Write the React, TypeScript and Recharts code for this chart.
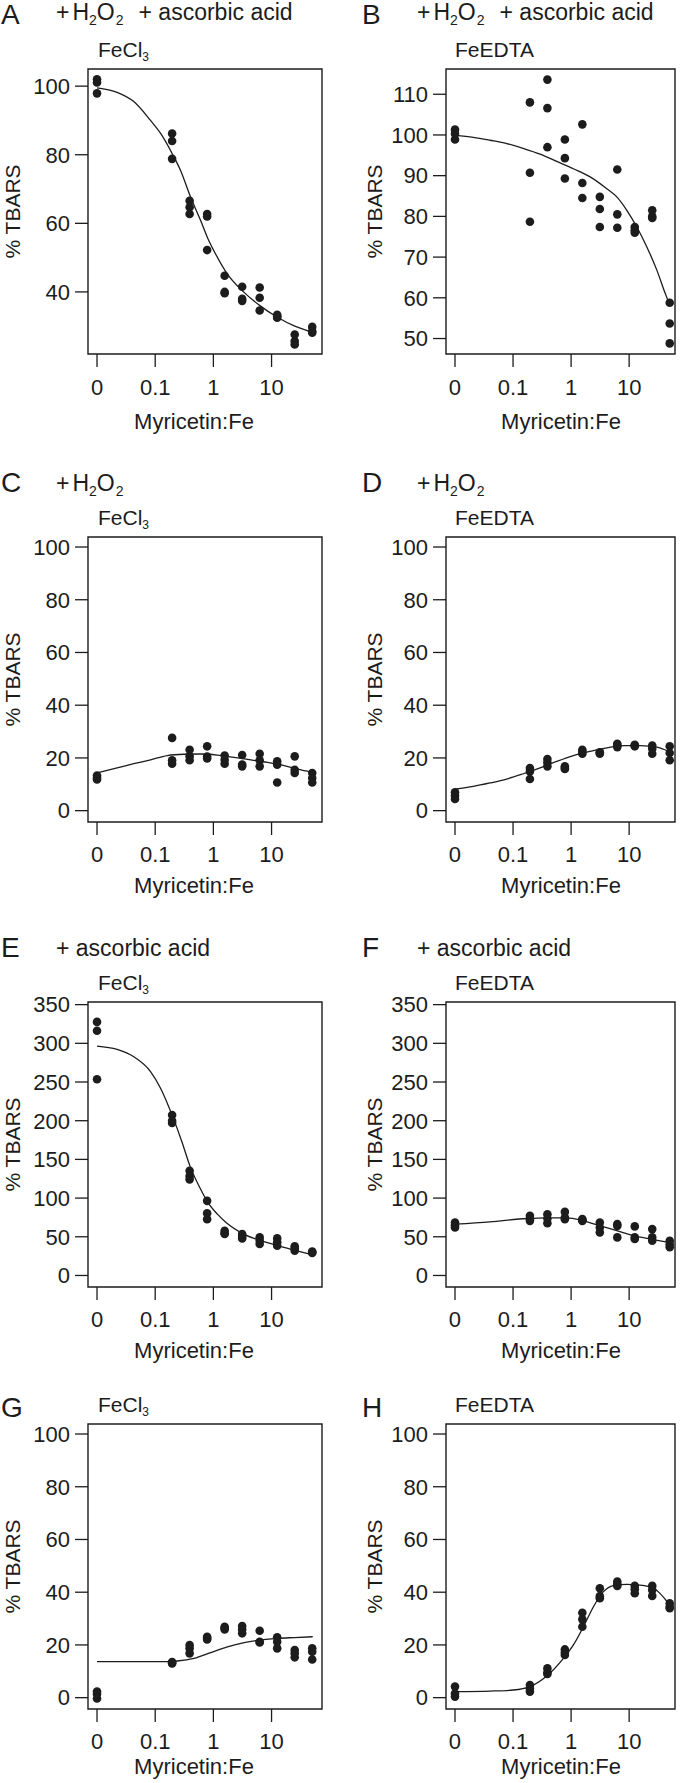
import React from 'react';
import { ComposedChart, Scatter, Line, XAxis, YAxis, ReferenceArea } from 'recharts';

// ---------- data ----------
// Myricetin:Fe ratios (0 is drawn one decade left of 0.1)
const ratios = [0, 0.1953125, 0.390625, 0.78125, 1.5625, 3.125, 6.25, 12.5, 25, 50];
const xTickPos = [-2, -1, 0, 1];
const xTickLabels = ['0', '0.1', '1', '10'];

// replicate % TBARS values, one list per ratio
const aValues = [[102.0, 101.1, 97.9], [86.2, 84.0, 78.8], [66.6, 64.7, 62.7], [62.7, 62.0, 52.2], [44.7, 40.0, 39.6], [41.5, 38.0, 37.4], [41.3, 38.3, 34.6], [33.3, 32.5, 32.8], [27.6, 25.7, 24.7], [29.8, 28.1, 28.5]];
const bValues = [[101.3, 100.3, 98.9], [108.0, 90.7, 78.7], [113.6, 106.6, 97.0], [98.9, 94.3, 89.3], [102.6, 88.2, 84.5], [84.8, 81.8, 77.4], [91.5, 80.5, 77.2], [77.4, 76.6, 76.0], [81.5, 79.6, 80.0], [58.8, 53.7, 48.8]];
const cValues = [[13.3, 12.5, 11.8], [27.6, 19.1, 17.8], [23.1, 20.6, 19.1], [24.4, 20.5, 19.8], [20.9, 19.3, 17.8], [21.1, 17.5, 16.8], [21.6, 19.1, 16.8], [18.7, 17.4, 10.7], [20.6, 15.5, 14.3], [14.3, 12.4, 10.7]];
const dValues = [[7.0, 5.7, 4.4], [16.2, 14.9, 12.0], [19.6, 18.3, 16.8], [16.8, 15.8, 16.2], [23.1, 21.6, 22.3], [22.1, 21.6, 22.0], [25.4, 24.1, 24.8], [25.0, 24.4, 24.7], [24.7, 21.6, 23.5], [24.4, 21.9, 19.1]];
const eValues = [[327.7, 316.2, 253.6], [207.3, 200.0, 197.0], [135.3, 128.5, 124.2], [96.4, 80.5, 72.8], [57.8, 55.0, 53.5], [53.5, 50.0, 47.9], [49.2, 44.9, 40.7], [47.9, 42.8, 38.5], [37.7, 35.0, 32.1], [31.0, 30.0, 29.0]];
const fValues = [[68.5, 65.0, 62.1], [77.1, 73.0, 70.6], [79.2, 73.6, 67.6], [82.2, 74.9, 72.8], [72.8, 71.5, 70.6], [68.5, 62.0, 55.7], [66.3, 64.0, 49.2], [63.4, 49.2, 47.1], [59.9, 49.2, 44.9], [44.9, 40.0, 36.4]];
const gValues = [[2.3, 1.4, -0.3], [13.5, 13.0, 13.2], [20.0, 18.7, 16.8], [23.1, 22.1, 22.6], [26.9, 25.9, 26.4], [27.2, 25.9, 24.4], [25.4, 20.9, 21.2], [22.9, 21.2, 18.7], [18.1, 16.8, 15.3], [18.7, 17.4, 14.5]];
const hValues = [[4.2, 1.6, 0.4], [4.8, 3.5, 2.3], [11.1, 9.5, 9.0], [18.3, 17.1, 16.2], [32.2, 29.7, 26.9], [41.5, 37.7, 38.5], [44.0, 42.4, 43.0], [42.4, 41.1, 39.6], [42.4, 40.8, 38.6], [35.8, 34.5, 33.9]];

// fitted curves: [axis position (log10 ratio), % TBARS]
const aCurve = [[-2, 99.5], [-1.655, 98.2], [-1.368, 95.5], [-1.081, 90.0], [-0.907, 86.2], [-0.707, 80.3], [-0.564, 75.4], [-0.391, 67.6], [-0.219, 60.8], [-0.103, 55.9], [0.04, 51.0], [0.241, 45.2], [0.5, 40.3], [0.8, 36.0], [1.1, 32.6], [1.4, 30.0], [1.764, 27.9]];
const bCurve = [[-2, 99.9], [-1.684, 99.4], [-1.397, 98.7], [-1.109, 97.9], [-0.822, 96.7], [-0.534, 95.3], [-0.247, 93.5], [0.04, 91.7], [0.328, 89.7], [0.615, 86.8], [0.787, 84.8], [0.96, 81.5], [1.132, 77.4], [1.305, 72.5], [1.477, 66.8], [1.621, 61.1], [1.678, 59.0]];
const cCurve = [[-2, 14.3], [-1.655, 16.2], [-1.368, 17.8], [-1.08, 19.3], [-0.793, 20.9], [-0.506, 21.4], [-0.218, 21.5], [0.069, 21.1], [0.356, 20.2], [0.644, 19.3], [0.931, 18.3], [1.218, 17.1], [1.506, 15.5], [1.764, 14.3]];
const dCurve = [[-2, 8.2], [-1.684, 9.2], [-1.397, 10.5], [-1.109, 12.0], [-0.822, 14.0], [-0.534, 16.2], [-0.247, 18.7], [0.04, 20.9], [0.328, 22.5], [0.615, 23.8], [0.902, 24.7], [1.19, 24.7], [1.477, 24.1], [1.678, 22.5]];
const eCurve = [[-2, 296.4], [-1.655, 292.2], [-1.368, 282.7], [-1.08, 263.5], [-0.908, 242.0], [-0.701, 205.6], [-0.534, 171.3], [-0.402, 141.3], [-0.247, 115.6], [-0.092, 94.2], [0.069, 79.2], [0.218, 68.5], [0.523, 53.5], [0.816, 44.9], [1.103, 38.5], [1.42, 32.1], [1.707, 26.5]];
const fCurve = [[-2, 66.3], [-1.397, 69.3], [-0.764, 73.6], [-0.42, 74.5], [-0.075, 74.5], [0.213, 70.6], [0.5, 64.2], [0.787, 57.8], [1.075, 51.4], [1.362, 47.1], [1.678, 42.8]];
const gCurve = [[-2, 13.7], [-1.368, 13.7], [-0.793, 13.7], [-0.621, 13.9], [-0.333, 14.9], [-0.046, 17.1], [0.241, 19.3], [0.529, 20.9], [0.816, 21.9], [1.103, 22.5], [1.391, 22.8], [1.707, 23.1]];
const hCurve = [[-2, 2.3], [-1.397, 2.5], [-0.994, 2.9], [-0.707, 4.2], [-0.42, 8.2], [-0.132, 14.9], [0.04, 20.0], [0.213, 26.9], [0.385, 34.5], [0.557, 40.2], [0.73, 42.5], [0.96, 43.0], [1.19, 42.7], [1.42, 41.5], [1.678, 35.8]];

// y ticks
const ticksA = [40, 60, 80, 100];
const ticksB = [50, 60, 70, 80, 90, 100, 110];
const ticks100 = [0, 20, 40, 60, 80, 100];
const ticks350 = [0, 50, 100, 150, 200, 250, 300, 350];

// ---------- layout ----------
const FONT = '"Liberation Sans", Arial, Helvetica, sans-serif';
const INK = '#1c1c1c';
const ROW_TOPS = [69, 537, 1002, 1424];
const BOX_H = 285;
const COL_LEFT = [0, 340];
const BOX_LEFT = [88, 446];
const BOX_RIGHT = [322, 675];
const X_DOMAIN = [[-2.155, 1.867], [-2.155, 1.79]];
const PAD = 10;
const XAXIS_H = 60;
const XLAB_OFFSET = [75, 71, 71, 65];

type PanelDef = {
  letter: string; row: number; col: number; header: string | null; iron: 'FeCl3' | 'FeEDTA';
  values: number[][]; curve: number[][]; yDomain: number[]; yTicks: number[];
};

const panels: PanelDef[] = [
  { letter: 'A', row: 0, col: 0, header: 'both', iron: 'FeCl3', values: aValues, curve: aCurve, yDomain: [21.9, 105], yTicks: ticksA },
  { letter: 'B', row: 0, col: 1, header: 'both', iron: 'FeEDTA', values: bValues, curve: bCurve, yDomain: [46.2, 116.2], yTicks: ticksB },
  { letter: 'C', row: 1, col: 0, header: 'h2o2', iron: 'FeCl3', values: cValues, curve: cCurve, yDomain: [-4.3, 103.8], yTicks: ticks100 },
  { letter: 'D', row: 1, col: 1, header: 'h2o2', iron: 'FeEDTA', values: dValues, curve: dCurve, yDomain: [-4.3, 103.8], yTicks: ticks100 },
  { letter: 'E', row: 2, col: 0, header: 'asc', iron: 'FeCl3', values: eValues, curve: eCurve, yDomain: [-14.9, 353.4], yTicks: ticks350 },
  { letter: 'F', row: 2, col: 1, header: 'asc', iron: 'FeEDTA', values: fValues, curve: fCurve, yDomain: [-14.9, 353.4], yTicks: ticks350 },
  { letter: 'G', row: 3, col: 0, header: null, iron: 'FeCl3', values: gValues, curve: gCurve, yDomain: [-4.3, 103.8], yTicks: ticks100 },
  { letter: 'H', row: 3, col: 1, header: null, iron: 'FeEDTA', values: hValues, curve: hCurve, yDomain: [-4.3, 103.8], yTicks: ticks100 },
];

const toPos = (r: number) => (r === 0 ? -2 : Math.log10(r));

const Dot = (props: any) => <circle cx={props.cx} cy={props.cy} r={4.3} fill={INK} />;

function Panel({ p }: { p: PanelDef }) {
  const colLeft = COL_LEFT[p.col];
  const boxLeft = BOX_LEFT[p.col];
  const boxRight = BOX_RIGHT[p.col];
  const xDomain = X_DOMAIN[p.col];
  const top = ROW_TOPS[p.row];
  const width = 340;
  const height = PAD + BOX_H + XAXIS_H;
  const points: { x: number; y: number }[] = [];
  ratios.forEach((r, i) => p.values[i].forEach((v) => points.push({ x: toPos(r), y: v })));
  const curve = p.curve.map(([x, y]) => ({ x, y }));
  return (
    <div style={{ position: 'absolute', left: colLeft, top: top - PAD }}>
      <ComposedChart
        width={width}
        height={height}
        margin={{ top: PAD, right: colLeft + width - boxRight, bottom: 0, left: 0 }}
      >
        <XAxis
          type="number"
          dataKey="x"
          domain={xDomain}
          allowDataOverflow
          ticks={xTickPos}
          interval={0}
          tickFormatter={(v: number) => xTickLabels[xTickPos.indexOf(v)]}
          height={XAXIS_H}
          tickSize={13}
          tickMargin={p.row === 0 ? 12 : 11}
          axisLine={false}
          tickLine={{ stroke: INK, strokeWidth: 1.3 }}
          tick={{ fontSize: 22, fill: INK, fontFamily: FONT }}
        />
        <YAxis
          type="number"
          dataKey="y"
          domain={p.yDomain}
          allowDataOverflow
          ticks={p.yTicks}
          interval={0}
          width={boxLeft - colLeft}
          tickSize={13}
          tickMargin={5}
          axisLine={false}
          tickLine={{ stroke: INK, strokeWidth: 1.3 }}
          tick={{ fontSize: 22, fill: INK, fontFamily: FONT }}
        />
        <ReferenceArea
          x1={xDomain[0]}
          x2={xDomain[1]}
          y1={p.yDomain[0]}
          y2={p.yDomain[1]}
          fill="none"
          fillOpacity={0}
          stroke={INK}
          strokeWidth={1.4}
          strokeOpacity={1}
        />
        <Line
          data={curve}
          dataKey="y"
          type="monotone"
          dot={false}
          activeDot={false}
          stroke={INK}
          strokeWidth={1.3}
          isAnimationActive={false}
        />
        <Scatter data={points} shape={Dot} isAnimationActive={false} />
      </ComposedChart>
    </div>
  );
}

function Header({ kind, x, y }: { kind: string; x: number; y: number }) {
  if (kind === 'asc') {
    return (
      <text x={x} y={y} fontSize={23}>+ ascorbic acid</text>
    );
  }
  return (
    <text x={x} y={y} fontSize={23}>
      <tspan>+</tspan>
      <tspan dx={3}>H</tspan>
      <tspan fontSize={14} dy={5}>2</tspan>
      <tspan dy={-5}>O</tspan>
      <tspan fontSize={14} dy={5} dx={1}>2</tspan>
      {kind === 'both' ? <tspan dy={-5} dx={15}>+ ascorbic acid</tspan> : null}
    </text>
  );
}

function Labels() {
  return (
    <svg
      width={680}
      height={1783}
      style={{ position: 'absolute', left: 0, top: 0, pointerEvents: 'none' }}
      fontFamily={FONT}
      fill={INK}
    >
      {panels.map((p) => {
        const top = ROW_TOPS[p.row];
        const colShift = p.col === 0 ? 0 : 360;
        const letterX = p.col === 0 ? 1 : 362;
        const letterY = p.row === 0 ? 24 : p.header ? top - 45 : top - 7;
        const headerY = p.row === 0 ? 20 : top - 46;
        const ironX = p.col === 0 ? 98 : 455;
        const ironY = top - 12;
        const ylabX = p.col === 0 ? 19.5 : 382;
        const xlabX = p.col === 0 ? 194 : 561;
        const xlabY = top + BOX_H + XLAB_OFFSET[p.row];
        return (
          <g key={p.letter}>
            <text x={letterX} y={letterY} fontSize={28}>{p.letter}</text>
            {p.header ? <Header kind={p.header} x={56 + colShift + (p.col === 1 ? 1 : 0)} y={headerY} /> : null}
            {p.iron === 'FeCl3' ? (
              <text x={ironX} y={ironY} fontSize={21}>
                FeCl<tspan fontSize={12} dy={4}>3</tspan>
              </text>
            ) : (
              <text x={ironX} y={ironY} fontSize={21}>FeEDTA</text>
            )}
            <text
              x={ylabX}
              y={top + BOX_H / 2}
              fontSize={21}
              textAnchor="middle"
              transform={`rotate(-90 ${ylabX} ${top + BOX_H / 2})`}
            >
              % TBARS
            </text>
            <text x={xlabX} y={xlabY} fontSize={22} textAnchor="middle">Myricetin:Fe</text>
          </g>
        );
      })}
    </svg>
  );
}

export default function App() {
  return (
    <div style={{ position: 'absolute', left: 0, top: 0, width: 680, height: 1783, background: '#fff', overflow: 'hidden' }}>
      {panels.map((p) => (
        <Panel key={p.letter} p={p} />
      ))}
      <Labels />
    </div>
  );
}
